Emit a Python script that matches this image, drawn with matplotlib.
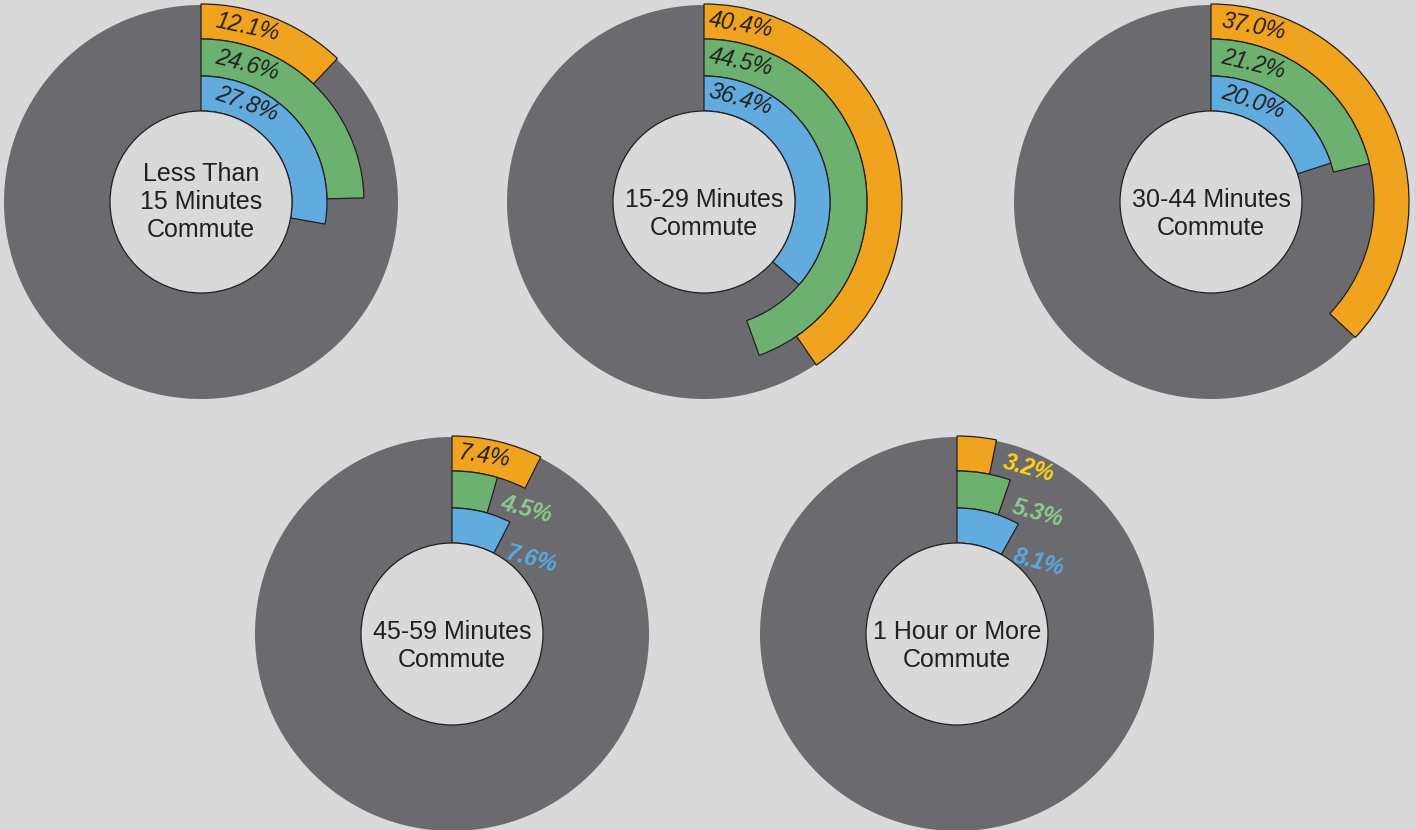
import matplotlib.pyplot as plt
from matplotlib.patches import Circle
import numpy as np

# commute share by group (outer ring = orange, middle = green, inner = blue)
titles = ['Less Than\n15 Minutes\nCommute', '15-29 Minutes\nCommute', '30-44 Minutes\nCommute',
          '45-59 Minutes\nCommute', '1 Hour or More\nCommute']
orange = [12.1, 40.4, 37.0, 7.4, 3.2]
green = [24.6, 44.5, 21.2, 4.5, 5.3]
blue = [27.8, 36.4, 20.0, 7.6, 8.1]

# layout, in pixels (y measured upward)
centers = [(201, 628), (704, 628), (1211, 628), (452, 196), (957, 196)]
inside_arc = [47, 37, 43, 33, 35]
R_DISK = 197
R_HOLE = 91
rings = [(163, 198), (126, 163), (91, 126)]   # (inner, outer) for orange, green, blue

BG = '#d9d9d9'
GREY = '#6b6b6f'
DARK = '#231f20'
colors = ['#f0a31f', '#6db170', '#62abde']
out_colors = ['#fcd416', '#8ccb8c', '#5aa9e2']

plt.rcParams['font.family'] = ['Liberation Sans', 'DejaVu Sans']

fig = plt.figure(figsize=(14.15, 8.3), dpi=100, facecolor=BG)
ax = fig.add_axes([0, 0, 1, 1])
ax.set_facecolor(BG)


def polar(c, r, ang):
    a = np.radians(ang)
    return c[0] + r * np.sin(a), c[1] + r * np.cos(a)


for i, title in enumerate(titles):
    c = centers[i]
    ax.pie([100], radius=R_DISK, center=c, colors=[GREY], startangle=90,
           wedgeprops=dict(linewidth=0))

    vals = [orange[i], green[i], blue[i]]
    for k, v in enumerate(vals):
        r_in, r_out = rings[k]
        w, _ = ax.pie([v, 100 - v], radius=r_out, center=c, startangle=90, counterclock=False,
                      colors=[colors[k], 'none'],
                      wedgeprops=dict(width=r_out - r_in, edgecolor=DARK, linewidth=0.9))
        w[1].set_visible(False)

        r_mid = (r_in + r_out) / 2
        end = v * 3.6
        txt = '%.1f%%' % v
        if 2 * np.pi * r_mid * v / 100 > 75:
            ang = np.degrees(inside_arc[i] / r_mid)
            x, y = polar(c, r_mid, ang)
            ax.text(x, y, txt, ha='center', va='center', fontsize=16.5, style='italic',
                    color=DARK, rotation=-0.8 * ang, rotation_mode='anchor')
        else:
            ang = end + np.degrees(37 / r_mid)
            x, y = polar(c, r_mid, ang)
            ax.text(x, y, txt, ha='center', va='center', fontsize=16.5, style='italic',
                    fontweight='bold', color=out_colors[k], rotation=-15,
                    rotation_mode='anchor')

    ax.add_patch(Circle(c, R_HOLE, facecolor=BG, edgecolor=DARK, linewidth=0.9, zorder=3))
    nlines = title.count('\n') + 1
    ax.text(c[0], c[1] - (3 - nlines) * 12, title, ha='center', va='center', fontsize=18,
            color=DARK, linespacing=1.2, zorder=4)

ax.set_xlim(0, 1415)
ax.set_ylim(0, 830)
ax.set_aspect('equal')
ax.axis('off')

plt.savefig('out.png', dpi=100, facecolor=BG)
